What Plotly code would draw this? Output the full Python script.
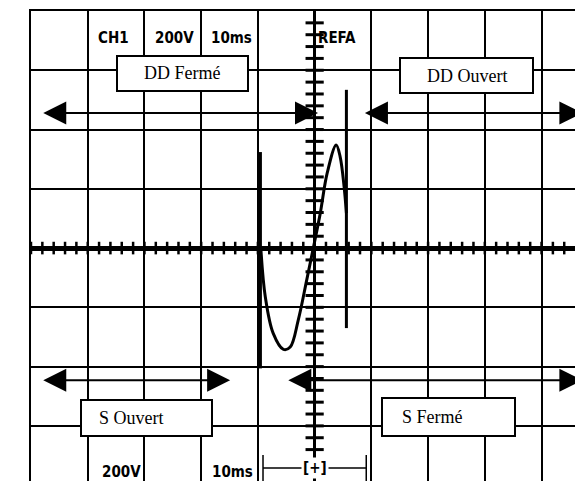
import numpy as np
import plotly.graph_objects as go

# ---- data (oscilloscope divisions: x = time div, y = volt div) ----
wave_x = [-0.95, -0.87, -0.73, -0.55, -0.43, -0.29, -0.14, -0.03, 0.10, 0.22, 0.38, 0.45, 0.52, 0.56]
wave_y = [0.02, -0.82, -1.44, -1.71, -1.67, -1.22, -0.54, -0.03, 0.59, 1.26, 1.74, 1.54, 1.03, 0.59]

marker1_x = [-0.96, -0.96]
marker1_y = [1.62, -2.03]
marker2_x = [0.56, 0.56]
marker2_y = [2.67, -1.35]

header_labels = ["CH1", "200V", "10ms", "REFA"]
header_x = [-3.55, -2.47, -1.47, 0.40]
header_y = [3.54, 3.54, 3.54, 3.54]

footer_labels = ["200V", "10ms"]
footer_x = [-3.41, -1.45]
footer_y = [-3.77, -3.77]

box_labels = ["DD Fermé", "DD Ouvert", "S Ouvert", "S Fermé"]
box_cx = [-2.33, 2.68, -2.97, 2.36]
box_cy = [2.95, 2.91, -2.87, -2.85]
box_w = [133, 135, 133, 135]
box_h = [37, 37, 38, 40]
label_x = [-2.33, 2.68, -3.22, 2.08]

arrow_y = [2.28, 2.28, -2.23, -2.23]
arrow_x0 = [-4.81, 0.86, -4.81, -0.49]
arrow_x1 = [0.06, 4.72, -1.49, 4.72]

bracket_x = [-0.91, -0.91, None, -0.91, 0.91, None, 0.91, 0.91]
bracket_y = [-3.49, -3.95, None, -3.71, -3.71, None, -3.49, -3.95]

X_RANGE = [-5, 4.59]
Y_RANGE = [-3.93, 4]

fig = go.Figure()

# center axis minor ticks
mt_h = np.round(np.arange(-5, 4.6, 0.2), 2)
mt_v = np.round(np.arange(-3.8, 4.0, 0.2), 2)
fig.add_trace(go.Scatter(x=mt_h, y=[0] * len(mt_h), mode="markers",
                         marker=dict(symbol="line-ns", size=9, line=dict(color="black", width=2.5)),
                         hoverinfo="skip"))
fig.add_trace(go.Scatter(x=[0] * len(mt_v), y=mt_v, mode="markers",
                         marker=dict(symbol="line-ew", size=13, line=dict(color="black", width=3)),
                         hoverinfo="skip"))

# markers and waveform
fig.add_trace(go.Scatter(x=marker1_x, y=marker1_y, mode="lines",
                         line=dict(color="black", width=3.5), hoverinfo="skip"))
fig.add_trace(go.Scatter(x=marker2_x, y=marker2_y, mode="lines",
                         line=dict(color="black", width=3), hoverinfo="skip"))
fig.add_trace(go.Scatter(x=wave_x, y=wave_y, mode="lines",
                         line=dict(color="black", width=3, shape="spline"), hoverinfo="skip"))
fig.add_trace(go.Scatter(x=bracket_x, y=bracket_y, mode="lines",
                         line=dict(color="black", width=1.5), hoverinfo="skip"))

annotations = []
hdr_font = dict(family="DejaVu Sans Condensed, DejaVu Sans", size=15, color="black", weight="bold")
for t, x, y in zip(header_labels, header_x, header_y):
    annotations.append(dict(x=x, y=y, xref="x", yref="y", text=t, showarrow=False,
                            font=hdr_font, xanchor="center", yanchor="middle"))
for t, x, y in zip(footer_labels, footer_x, footer_y):
    annotations.append(dict(x=x, y=y, xref="x", yref="y", text=t, showarrow=False,
                            font=hdr_font, xanchor="center", yanchor="middle"))
annotations.append(dict(x=0, y=-3.71, xref="x", yref="y", text="[+]", showarrow=False,
                        font=hdr_font, bgcolor="white", xanchor="center", yanchor="middle"))

# arrows
for y, x0, x1 in zip(arrow_y, arrow_x0, arrow_x1):
    annotations.append(dict(x=x1, y=y, ax=x0, ay=y, xref="x", yref="y", axref="x", ayref="y",
                            text="", showarrow=True, arrowhead=2, startarrowhead=2,
                            arrowside="end+start", arrowsize=2.3, startarrowsize=2.3,
                            arrowwidth=2, arrowcolor="black", standoff=0, startstandoff=0))

# label boxes
for cx, cy, w, h in zip(box_cx, box_cy, box_w, box_h):
    annotations.append(dict(x=cx, y=cy, xref="x", yref="y", text=" ", showarrow=False,
                            width=w - 4, height=h - 4, bgcolor="white", bordercolor="black",
                            borderwidth=2, borderpad=0, xanchor="center", yanchor="middle"))
for t, x, y in zip(box_labels, label_x, box_cy):
    annotations.append(dict(x=x, y=y, xref="x", yref="y", text=t, showarrow=False,
                            font=dict(family="Liberation Serif, Times New Roman, serif", size=18, color="black"),
                            xanchor="center", yanchor="middle"))

fig.update_layout(
    width=575, height=481,
    margin=dict(l=31, r=0, t=11, b=0),
    paper_bgcolor="white", plot_bgcolor="white",
    showlegend=False,
    annotations=annotations,
    xaxis=dict(range=X_RANGE, tick0=0, dtick=1, showgrid=True, gridcolor="black", gridwidth=1.6,
               zeroline=True, zerolinecolor="black", zerolinewidth=3, showticklabels=False, ticks="",
               showline=True, linecolor="black", linewidth=1.6, side="top", mirror=False, fixedrange=True),
    yaxis=dict(range=Y_RANGE, tick0=0, dtick=1, showgrid=True, gridcolor="black", gridwidth=1.6,
               zeroline=True, zerolinecolor="black", zerolinewidth=4.5, showticklabels=False, ticks="",
               showline=True, linecolor="black", linewidth=1.6, side="left", mirror=False, fixedrange=True),
)

fig.write_html("out.html", config={"displayModeBar": False},
               post_script="document.body.style.margin='0';document.body.style.overflow='hidden';")
